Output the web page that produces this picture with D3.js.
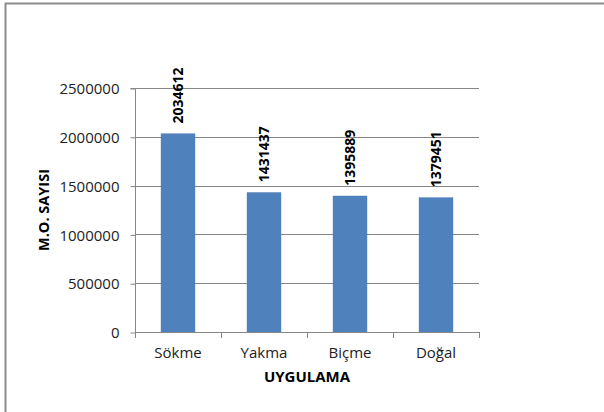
<!DOCTYPE html>
<html>
<head>
<meta charset="utf-8">
<script src="https://cdn.jsdelivr.net/npm/d3@7/dist/d3.min.js"></script>
<style>
  html, body { margin: 0; padding: 0; background: #fff; }
  svg { display: block; }
  text { font-family: "Open Sans", "DejaVu Sans", sans-serif; }
</style>
</head>
<body>
<svg id="chart" width="604" height="412"></svg>
<script>
const categories = ["Sökme", "Yakma", "Biçme", "Doğal"];
const values = [2034612, 1431437, 1395889, 1379451];
const yTicks = [0, 500000, 1000000, 1500000, 2000000, 2500000];
const yTitle = "M.O. SAYISI";
const xTitle = "UYGULAMA";

const svg = d3.select("#chart");
const W = 604, H = 412;
const plot = { left: 135, right: 479, top: 88, bottom: 332 };
const gridColor = "#868686";
const barColor = "#4F81BD";

// outer frame (left and top edges visible)
svg.append("line").attr("x1", 5.5).attr("x2", 5.5).attr("y1", 3).attr("y2", H)
  .attr("stroke", "#8c8c8c").attr("stroke-width", 2);
svg.append("line").attr("x1", 5).attr("x2", W).attr("y1", 3.5).attr("y2", 3.5)
  .attr("stroke", "#8c8c8c").attr("stroke-width", 2);

const x = d3.scaleBand().domain(categories).range([plot.left, plot.right]).paddingInner(0.6).paddingOuter(0.3);
const xb = d3.scaleBand().domain(categories).range([plot.left, plot.right]);
const y = d3.scaleLinear().domain([0, 2500000]).range([plot.bottom, plot.top]);

// gridlines
svg.append("g").selectAll("line").data(yTicks).join("line")
  .attr("x1", plot.left).attr("x2", plot.right)
  .attr("y1", d => Math.round(y(d)) + 0.5).attr("y2", d => Math.round(y(d)) + 0.5)
  .attr("stroke", gridColor).attr("stroke-width", 1);

// y axis
const yAxis = d3.axisLeft(y).tickValues(yTicks).tickSize(5).tickPadding(11).tickFormat(d3.format("d"));
const gy = svg.append("g").attr("transform", `translate(${plot.left + 0.5},0.5)`).call(yAxis);
gy.select(".domain").attr("stroke", gridColor).attr("d", `M-5,${plot.top}H0V${plot.bottom}`);
gy.selectAll(".tick line").attr("stroke", gridColor);
gy.selectAll(".tick text").attr("font-size", 15).attr("fill", "#222")
  .attr("font-family", '"Open Sans", sans-serif').attr("dy", "0.34em");

// bars
svg.append("g").selectAll("rect").data(values).join("rect")
  .attr("x", (d, i) => x(categories[i]))
  .attr("width", x.bandwidth())
  .attr("y", d => y(d))
  .attr("height", d => y(0) - y(d))
  .attr("fill", barColor);

// x axis
svg.append("line").attr("x1", plot.left).attr("x2", plot.right + 0.5)
  .attr("y1", plot.bottom + 0.5).attr("y2", plot.bottom + 0.5)
  .attr("stroke", gridColor);
const boundaries = categories.map(c => xb(c)).concat([plot.right]);
svg.append("g").selectAll("line").data(boundaries).join("line")
  .attr("x1", d => Math.round(d) + 0.5).attr("x2", d => Math.round(d) + 0.5)
  .attr("y1", plot.bottom).attr("y2", plot.bottom + 6)
  .attr("stroke", gridColor);

svg.append("g").selectAll("text").data(categories).join("text")
  .attr("x", d => xb(d) + xb.bandwidth() / 2)
  .attr("y", 358)
  .attr("text-anchor", "middle")
  .attr("font-size", 15).attr("fill", "#222")
  .text(d => d);

// value labels
svg.append("g").selectAll("text").data(values).join("text")
  .attr("transform", (d, i) => `translate(${x(categories[i]) + x.bandwidth() / 2 + 5},${y(d) - 10}) rotate(-90)`)
  .attr("text-anchor", "start")
  .attr("font-size", 14).attr("font-weight", "bold").attr("fill", "#000")
  .text(d => d);

// titles
svg.append("text")
  .attr("transform", "translate(49,210) rotate(-90)")
  .attr("text-anchor", "middle")
  .attr("font-size", 14.5).attr("font-weight", "bold").attr("fill", "#000")
  .text(yTitle);
svg.append("text")
  .attr("x", 307).attr("y", 382)
  .attr("text-anchor", "middle")
  .attr("font-size", 15).attr("font-weight", "bold").attr("fill", "#000")
  .text(xTitle);
</script>
</body>
</html>
